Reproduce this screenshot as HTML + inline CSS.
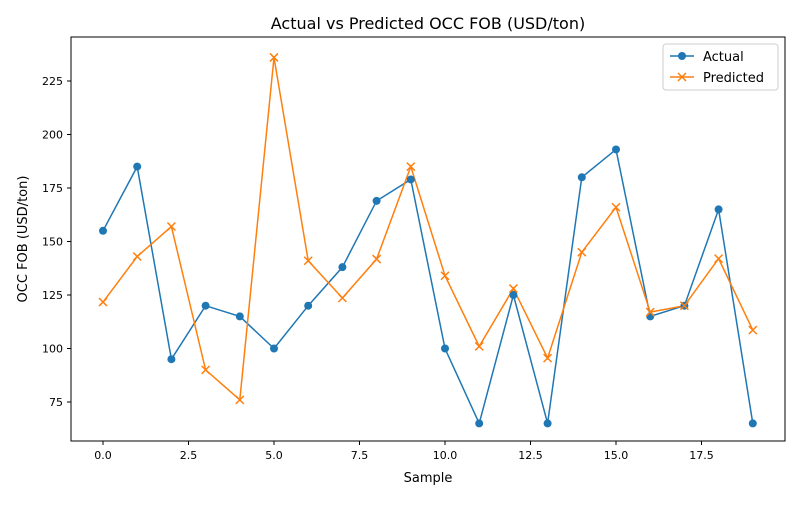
<!DOCTYPE html>
<html><head><meta charset="utf-8"><style>
body{margin:0;background:#fff;}
svg text{font-family:"DejaVu Sans","Liberation Sans",sans-serif;fill:#000;}
</style></head><body>
<svg id="chart" width="800" height="500" xmlns="http://www.w3.org/2000/svg">
<rect width="800" height="500" fill="#fff"/>
<text x="428" y="29" font-size="16" text-anchor="middle">Actual vs Predicted OCC FOB (USD/ton)</text>
<g id="axes"></g>
<g id="series"></g>
<rect x="71" y="37" width="714" height="404" fill="none" stroke="#000" stroke-width="1"/>
<text x="428" y="482" font-size="13" text-anchor="middle">Sample</text>
<text x="27" y="239" font-size="13" text-anchor="middle" transform="rotate(-90 27 239)">OCC FOB (USD/ton)</text>
<g>
<rect x="663" y="44" width="115" height="46" rx="3" fill="#fff" stroke="#ccc"/>
<g>
<line x1="670" y1="56" x2="694" y2="56" stroke="#1f77b4" stroke-width="1.5"/>
<circle cx="682" cy="56" r="4" fill="#1f77b4"/>
<text x="703" y="61" font-size="13">Actual</text></g>
<g>
<line x1="670" y1="77" x2="694" y2="77" stroke="#ff7f0e" stroke-width="1.5"/>
<path d="M678,73 L686,81 M686,73 L678,81" stroke="#ff7f0e" stroke-width="1.5"/>
<text x="703" y="82" font-size="13">Predicted</text></g>
</g>
</svg>
<script>
const actual=[155,185,95,120,115,100,120,138,169,179,100,65,125,65,180,193,115,120,165,65];
const predicted=[121.7,143,157,90,76,236,141,123.6,141.8,185,134,101,128,95.5,145,166,117,120,142,108.6];
const xTicks=[0,2.5,5,7.5,10,12.5,15,17.5];
const yTicks=[75,100,125,150,175,200,225];
const NS="http://www.w3.org/2000/svg";
const xs=v=>103+v*34.2;
const ys=v=>402-(v-75)*2.14;
const axes=document.getElementById('axes'),ser=document.getElementById('series');
function mk(t,a,p){const e=document.createElementNS(NS,t);for(const k in a)e.setAttribute(k,a[k]);p.appendChild(e);return e;}
xTicks.forEach(v=>{const x=xs(v);
const l=mk('line',{x1:x,x2:x,y1:441,y2:445,stroke:'#000'},axes);


const t=mk('text',{x:x,y:459,'font-size':11,'text-anchor':'middle'},axes);t.textContent=v.toFixed(1);

});
yTicks.forEach(v=>{const y=ys(v);
const l=mk('line',{x1:67,x2:71,y1:y,y2:y,stroke:'#000'},axes);


const t=mk('text',{x:63,y:y+4,'font-size':11,'text-anchor':'end'},axes);t.textContent=v;

});
function line(d,c,name){const pts=d.map((v,i)=>xs(i)+','+ys(v)).join(' ');
const p=mk('polyline',{points:pts,fill:'none',stroke:c,'stroke-width':1.5},ser);

}
line(actual,'#1f77b4','actual');line(predicted,'#ff7f0e','predicted');
actual.forEach((v,i)=>{const c=mk('circle',{cx:xs(i),cy:ys(v),r:4,fill:'#1f77b4'},ser);

});
predicted.forEach((v,i)=>{const x=xs(i),y=ys(v);
const p=mk('path',{d:`M${x-4},${y-4} L${x+4},${y+4} M${x+4},${y-4} L${x-4},${y+4}`,stroke:'#ff7f0e','stroke-width':1.5},ser);

});
</script>
</body></html>
